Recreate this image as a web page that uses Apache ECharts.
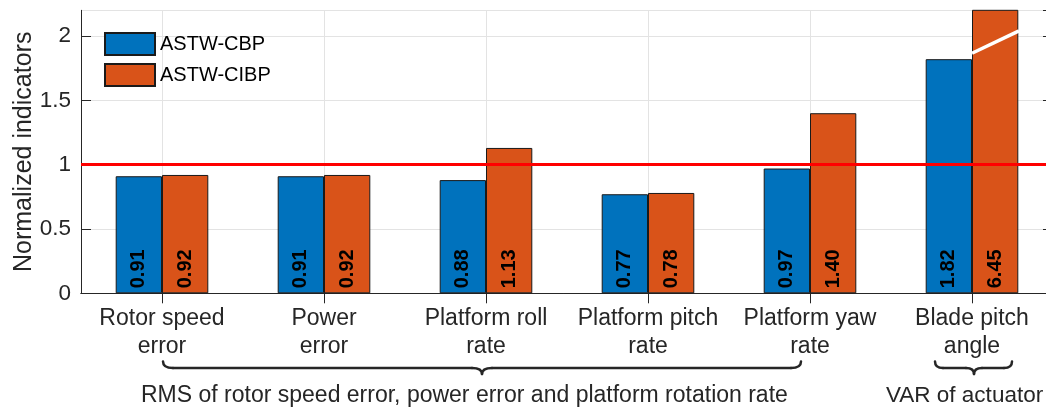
<!DOCTYPE html>
<html><head><meta charset="utf-8">
<script src="https://cdn.jsdelivr.net/npm/echarts@6/dist/echarts.min.js"></script>
<style>html,body{margin:0;padding:0;background:#fff}#c{width:1046px;height:410px}</style>
</head><body><div id="c"></div>
<script>
const categories = ['Rotor speed\nerror', 'Power\nerror', 'Platform roll\nrate', 'Platform pitch\nrate', 'Platform yaw\nrate', 'Blade pitch\nangle'];
const seriesNames = ['ASTW-CBP', 'ASTW-CIBP'];
const cbp = [0.91, 0.91, 0.88, 0.77, 0.97, 1.82];
const cibp = [0.92, 0.92, 1.13, 0.78, 1.40, 6.45];
const yTickLabels = ['0', '0.5', '1', '1.5', '2'];
const referenceValue = 1;
const groupLabels = ['RMS of rotor speed error, power error and platform rotation rate', 'VAR of actuator'];
const breakValues = [1.866, 2.04];

const FONT = 'Liberation Sans, Arial, Helvetica, sans-serif';
const AX = '#262626';
const chart = echarts.init(document.getElementById('c'), null, {renderer: 'canvas'});

function brace(x1, xm, x2, y0, y1, y2, r) {
  const st = {stroke: AX, fill: null, lineWidth: 2.5, lineCap: 'round'};
  const z = 50;
  return [
    {type: 'bezierCurve', z, shape: {x1: x1, y1: y0, cpx1: x1, cpy1: y1, x2: x1 + r, y2: y1}, style: st},
    {type: 'line', z, shape: {x1: x1 + r, y1: y1, x2: xm - r, y2: y1}, style: st},
    {type: 'bezierCurve', z, shape: {x1: xm - r, y1: y1, cpx1: xm, cpy1: y1, x2: xm, y2: y2}, style: st},
    {type: 'bezierCurve', z, shape: {x1: xm, y1: y2, cpx1: xm, cpy1: y1, x2: xm + r, y2: y1}, style: st},
    {type: 'line', z, shape: {x1: xm + r, y1: y1, x2: x2 - r, y2: y1}, style: st},
    {type: 'bezierCurve', z, shape: {x1: x2 - r, y1: y1, cpx1: x2, cpy1: y1, x2: x2, y2: y0}, style: st}
  ];
}

const barLabel = {
  show: true, position: 'insideBottom', rotate: 90, align: 'left', verticalAlign: 'middle',
  distance: 5, fontWeight: 'bold', fontSize: 20, color: '#000', fontFamily: FONT,
  formatter: p => Number(p.value).toFixed(2)
};

const option = {
  animation: false,
  textStyle: {fontFamily: FONT},
  grid: {left: 81, top: 10.3, width: 972, height: 283, containLabel: false, outerBoundsMode: 'none'},
  legend: {
    data: seriesNames, left: 99, top: 27, orient: 'vertical', icon: 'rect',
    itemWidth: 50, itemHeight: 22, itemGap: 7,
    textStyle: {fontSize: 20, lineHeight: 22, color: '#000', fontFamily: FONT}
  },
  xAxis: [{
    type: 'category', data: categories, position: 'bottom',
    axisLine: {lineStyle: {color: AX, width: 1}},
    axisTick: {show: true, inside: true, length: 10, alignWithLabel: true, lineStyle: {color: AX}},
    splitLine: {show: true, alignWithLabel: true, lineStyle: {color: '#e3e3e3', width: 1}},
    axisLabel: {interval: 0, fontSize: 23, lineHeight: 28, margin: 11, color: AX, fontFamily: FONT}
  }, {
    type: 'category', data: categories, position: 'top',
    axisLine: {lineStyle: {color: AX, width: 1}},
    axisTick: {show: true, inside: true, length: 10, alignWithLabel: true, lineStyle: {color: AX}},
    axisLabel: {show: false}, splitLine: {show: false}
  }],
  yAxis: [{
    type: 'value', min: 0, max: 2.2, interval: 0.5, position: 'left',
    name: 'Normalized indicators', nameLocation: 'middle', nameGap: 44, nameMoveOverlap: false,
    nameTextStyle: {fontSize: 25, color: AX, fontFamily: FONT},
    axisLine: {show: true, lineStyle: {color: AX, width: 1}},
    axisTick: {show: true, inside: true, length: 10, lineStyle: {color: AX}},
    splitLine: {show: true, lineStyle: {color: '#e3e3e3', width: 1}},
    axisLabel: {fontSize: 22.5, color: AX, margin: 10, fontFamily: FONT, showMaxLabel: false,
      formatter: v => { const s = String(v); return yTickLabels.indexOf(s) >= 0 ? s : ''; }}
  }, {
    type: 'value', min: 0, max: 2.2, interval: 0.5, position: 'right',
    axisLine: {show: true, lineStyle: {color: AX, width: 1}},
    axisTick: {show: true, inside: true, length: 10, lineStyle: {color: AX}},
    axisLabel: {show: false}, splitLine: {show: false}
  }],
  series: [{
    name: seriesNames[0], type: 'bar', data: cbp, barWidth: 46.3, barGap: '0%', clip: true,
    itemStyle: {color: '#0072BD', borderColor: '#1a1a1a', borderWidth: 1},
    label: barLabel, z: 2
  }, {
    name: seriesNames[1], type: 'bar', data: cibp, barWidth: 46.3, barGap: '0%', clip: true,
    itemStyle: {color: '#D95319', borderColor: '#1a1a1a', borderWidth: 1},
    label: barLabel, z: 2
  }, {
    name: 'ref', type: 'line', data: [], z: 5, silent: true,
    markLine: {
      silent: true, symbol: ['none', 'none'], label: {show: false},
      lineStyle: {color: '#ff0000', width: 3, type: 'solid'},
      data: [{yAxis: referenceValue}]
    }
  }]
};
chart.setOption(option);

const c5 = chart.convertToPixel({xAxisIndex: 0}, 5);
const yA = chart.convertToPixel({yAxisIndex: 0}, breakValues[0]);
const yB = chart.convertToPixel({yAxisIndex: 0}, breakValues[1]);

const elems = [
  {type: 'line', z: 50, shape: {x1: c5, y1: yA, x2: c5 + 47, y2: yB}, style: {stroke: '#fff', lineWidth: 3.5}}
].concat(brace(163, 482, 801, 361.5, 368, 374, 10))
 .concat(brace(935, 974, 1012, 361.5, 368, 374, 8))
 .concat([
  {type: 'text', z: 50, left: 141, top: 384, style: {text: groupLabels[0], fontSize: 23, fill: AX, fontFamily: FONT}},
  {type: 'text', z: 50, left: 886, top: 384, style: {text: groupLabels[1], fontSize: 22.5, fill: AX, fontFamily: FONT}}
 ]);
chart.setOption({graphic: elems});
</script></body></html>
